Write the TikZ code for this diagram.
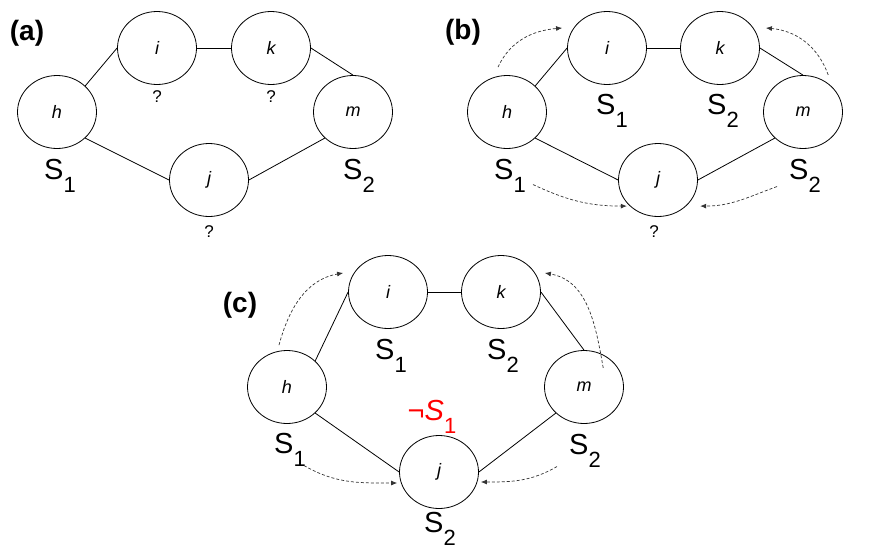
\documentclass[tikz,border=0pt]{standalone}
\usepackage{fontspec}
\setmainfont{Liberation Sans}
\usetikzlibrary{shapes.geometric, arrows.meta, positioning, calc}

\tikzset{
  vert/.style={draw, ellipse, line width=0.8pt, inner sep=0pt,
    minimum width=79pt, minimum height=73pt,
    font=\fontsize{18}{18}\selectfont\itshape},
  edge/.style={line width=0.8pt},
  flow/.style={dash pattern=on 3pt off 2pt, line width=0.7pt, black!80,
    -{Latex[length=6pt,width=5pt]}},
  qlab/.style={inner sep=0pt, font=\fontsize{17}{17}\selectfont},
  slab/.style={inner sep=0pt, font=\fontsize{29}{29}\selectfont},
  panel/.style={inner sep=0pt, font=\fontsize{28}{28}\selectfont\bfseries},
}
\newcommand{\Slab}[2][S]{#1\raisebox{-13pt}{\fontsize{22}{22}\selectfont\upshape #2}}

\begin{document}
\begin{tikzpicture}[x=1pt, y=1pt]
\useasboundingbox (0,0) rectangle (875,-554);

% (a)
\node[panel] at (27,-33) (pa) {(a)};
\node[vert] at (57,-112) (ah) {h};
\node[vert] at (157,-48) (ai) {i};
\node[vert] at (271,-48) (ak) {k};
\node[vert] at (353,-112) (am) {m};
\node[vert] at (209,-180) (aj) {j};
\draw[edge] (ah.north east) -- (ai.west);
\draw[edge] (ai) -- (ak);
\draw[edge] (ak.east) -- (am.north);
\draw[edge] (ah.south east) -- (aj.west);
\draw[edge] (aj.east) -- (am.south west);
\node[qlab, below=6pt of ai] (aiq) {?};
\node[qlab, below=6pt of ak] (akq) {?};
\node[qlab, below=9pt of aj] (ajq) {?};
\node[slab, below=10pt of ah, xshift=3pt] (ahS) {\Slab{1}};
\node[slab, below=10pt of am, xshift=6pt] (amS) {\Slab{2}};

% (b)
\node[panel] at (463,-32) (pb) {(b)};
\node[vert] at (507,-112) (bh) {h};
\node[vert] at (607,-48) (bi) {i};
\node[vert] at (720,-48) (bk) {k};
\node[vert] at (803,-112) (bm) {m};
\node[vert] at (658,-180) (bj) {j};
\draw[edge] (bh.north east) -- (bi.west);
\draw[edge] (bi) -- (bk);
\draw[edge] (bk.east) -- (bm.north);
\draw[edge] (bh.south east) -- (bj.west);
\draw[edge] (bj.east) -- (bm.south west);
\node[qlab, below=9pt of bj, xshift=-4pt] (bjq) {?};
\node[slab, below=9pt of bi, xshift=5pt] (biS) {\Slab{1}};
\node[slab, below=9pt of bk, xshift=3pt] (bkS) {\Slab{2}};
\node[slab, below=10pt of bh, xshift=3pt] (bhS) {\Slab{1}};
\node[slab, below=10pt of bm, xshift=2pt] (bmS) {\Slab{2}};
\draw[flow] ([xshift=-9pt,yshift=8pt]bh.north) to[out=65,in=185] ([xshift=-5pt,yshift=20pt]bi.west);
\draw[flow] ([xshift=-3pt,yshift=11pt]bm.north east) to[out=110,in=-5] ([xshift=6pt,yshift=20pt]bk.east);
\draw[flow] ([xshift=7pt,yshift=8pt]bhS.south east) to[out=-25,in=180] ([xshift=-3pt]bj.south west);
\draw[flow] ([xshift=-12pt,yshift=6pt]bmS.south west) to[out=200,in=0] ([xshift=14pt]bj.south east);

% (c)
\node[panel] at (240,-305) (pc) {(c)};
\node[vert] at (287,-387) (ch) {h};
\node[vert] at (388,-292) (ci) {i};
\node[vert] at (501,-292) (ck) {k};
\node[vert] at (584,-387) (cm) {m};
\node[vert] at (439,-472) (cj) {j};
\draw[edge] (ch.north east) -- (ci.west);
\draw[edge] (ci) -- (ck);
\draw[edge] (ck.east) -- (cm.north);
\draw[edge] (ch.south east) -- (cj.west);
\draw[edge] (cj.east) -- (cm.south west);
\node[slab, below=10pt of ci, xshift=3pt] (ciS) {\Slab{1}};
\node[slab, below=10pt of ck, xshift=2pt] (ckS) {\Slab{2}};
\node[slab, below=9pt of ch, xshift=3pt] (chS) {\Slab{1}};
\node[slab, below=10pt of cm, xshift=1pt] (cmS) {\Slab{2}};
\node[slab, below=3pt of cj, xshift=1pt] (cjS) {\Slab{2}};
\node[slab, text=red, above=1pt of cj, xshift=-7pt] (cjN) {¬\Slab[\textit{S}]{1}};
\draw[flow] ([xshift=-8pt,yshift=5pt]ch.north) to[out=75,in=190] ([xshift=-5pt,yshift=19pt]ci.west);
\draw[flow] ([xshift=-9pt,yshift=-7pt]cm.north east) to[out=100,in=-10] ([xshift=4pt,yshift=19pt]ck.east);
\draw[flow] ([xshift=-2pt,yshift=1pt]chS.south east) to[out=-30,in=180] ([xshift=-2pt,yshift=-11pt]cj.west);
\draw[flow] ([xshift=-12pt,yshift=1pt]cmS.south west) to[out=210,in=0] ([xshift=2pt,yshift=-10pt]cj.east);
\end{tikzpicture}
\end{document}
